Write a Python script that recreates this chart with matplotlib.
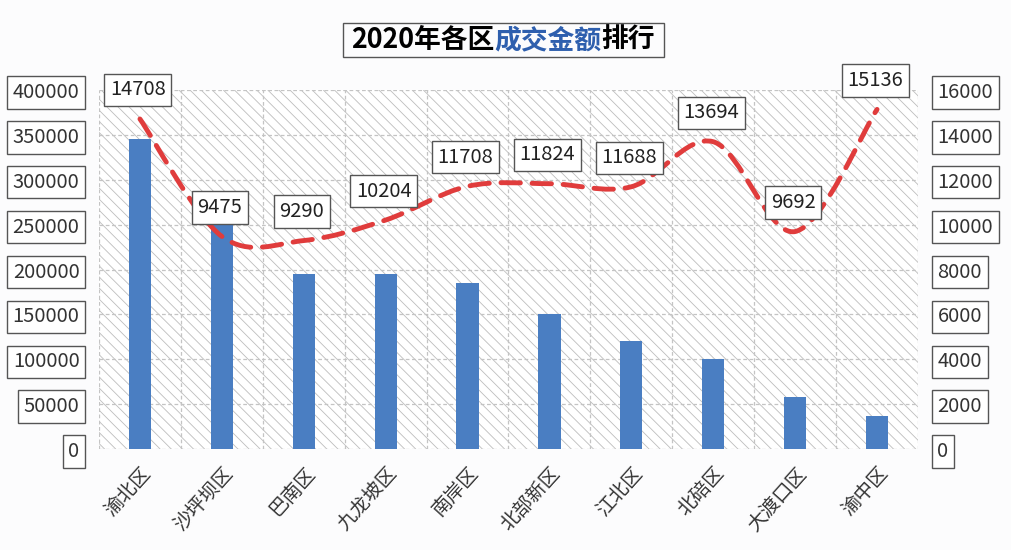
import numpy as np
import matplotlib
matplotlib.use("Agg")
import matplotlib.pyplot as plt
from matplotlib.patches import Rectangle, PathPatch
from matplotlib.path import Path

plt.rcParams['font.family'] = ['Noto Sans CJK SC', 'DejaVu Sans']
plt.rcParams['hatch.linewidth'] = 0.6

# data
districts = ['渝北区', '沙坪坝区', '巴南区', '九龙坡区', '南岸区',
             '北部新区', '江北区', '北碚区', '大渡口区', '渝中区']
amount = [345000, 255000, 195000, 195000, 185000, 150000, 120000, 100000, 58000, 37000]
price = [14708, 9475, 9290, 10204, 11708, 11824, 11688, 13694, 9692, 15136]
left_ticks = [0, 50000, 100000, 150000, 200000, 250000, 300000, 350000, 400000]
right_ticks = [0, 2000, 4000, 6000, 8000, 10000, 12000, 14000, 16000]

W, H = 1012, 550
fig = plt.figure(figsize=(W / 100, H / 100), dpi=100)
fig.patch.set_facecolor('#fcfcfd')

ax = fig.add_axes([99 / W, 1 - 449 / H, 819 / W, 359 / H])
ax2 = ax.twinx()

x = np.arange(len(districts))
ax.set_xlim(-0.5, len(districts) - 0.5)
ax.set_ylim(0, 400000)
ax2.set_ylim(0, 16000)

# hatched background
ax.set_facecolor('white')
ax.add_patch(Rectangle((0, 0), 1, 1, transform=ax.transAxes, facecolor='none',
                       edgecolor='#bdbdbd', hatch='\\\\\\', linewidth=0, zorder=0))

# grid: vertical at category borders, horizontal at ticks
for b in np.arange(-0.5, len(districts), 1):
    ax.axvline(b, color='#c4c4c4', lw=0.9, ls=(0, (3, 2)), zorder=1)
for t in left_ticks:
    ax.axhline(t, color='#c4c4c4', lw=0.9, ls=(0, (3, 2)), zorder=1)

ax.bar(x, amount, width=0.27, color='#4a7ec2', zorder=2)

for s in list(ax.spines.values()) + list(ax2.spines.values()):
    s.set_visible(False)

box = dict(boxstyle='square,pad=0.28', facecolor='white', edgecolor='#555555', linewidth=1)

ax.set_yticks(left_ticks)
ax.set_yticklabels([str(t) for t in left_ticks])
ax.tick_params(axis='y', length=0, pad=14, labelsize=14.5, labelcolor='#333333')
for tl in ax.get_yticklabels():
    tl.set_bbox(box)

ax2.set_yticks(right_ticks)
ax2.set_yticklabels([str(t) for t in right_ticks])
ax2.tick_params(axis='y', length=0, pad=14, labelsize=14.5, labelcolor='#333333')
for tl in ax2.get_yticklabels():
    tl.set_bbox(box)

ax.set_xticks(x)
ax.set_xticklabels(districts, rotation=48, ha='right', va='top',
                   rotation_mode='anchor', fontsize=14, color='#333333')
ax.tick_params(axis='x', length=0, pad=10)

# smoothed dashed line through the price points (bezier segments)
verts = [(x[0], price[0])]
codes = [Path.MOVETO]
n = len(price)
for i in range(n - 1):
    p0 = (x[max(i - 1, 0)], price[max(i - 1, 0)])
    p1 = (x[i], price[i])
    p2 = (x[i + 1], price[i + 1])
    p3 = (x[min(i + 2, n - 1)], price[min(i + 2, n - 1)])
    c1 = (p1[0] + (p2[0] - p0[0]) / 6, p1[1] + (p2[1] - p0[1]) / 6)
    c2 = (p2[0] - (p3[0] - p1[0]) / 6, p2[1] - (p3[1] - p1[1]) / 6)
    verts += [c1, c2, p2]
    codes += [Path.CURVE4] * 3
ax2.add_patch(PathPatch(Path(verts, codes), facecolor='none', edgecolor='#e03c3c',
                        lw=3.5, ls=(0, (4, 2.4)), zorder=3, capstyle='round'))

for xi, v in zip(x, price):
    ax2.annotate(str(v), (xi, v), xytext=(-2, 29), textcoords='offset pixels',
                 ha='center', va='center', fontsize=14.5, color='#222222',
                 bbox=box, zorder=4)

# title in three colour pieces with one frame
ymid = 1 - 40 / H
t1 = fig.text(0.35, ymid, '2020年各区', fontsize=19.3, fontweight='bold',
              color='black', va='center', ha='left')
t2 = fig.text(0, ymid, '成交金额', fontsize=19.3, fontweight='bold', color='#2e5fae', va='center')
t3 = fig.text(0, ymid, '排行', fontsize=19.3, fontweight='bold', color='black', va='center')
fig.canvas.draw()
r = fig.canvas.get_renderer()
w1 = t1.get_window_extent(r).width
w2 = t2.get_window_extent(r).width
w3 = t3.get_window_extent(r).width
start = 503 - (w1 + w2 + w3) / 2
t1.set_position((start / W, ymid))
t2.set_position(((start + w1) / W, ymid))
t3.set_position(((start + w1 + w2) / W, ymid))
fig.add_artist(Rectangle((343 / W, 1 - 57 / H), 321 / W, 34 / H, transform=fig.transFigure,
                         facecolor='none', edgecolor='#555555', lw=1))

fig.savefig('out.png', dpi=100, facecolor=fig.get_facecolor())
